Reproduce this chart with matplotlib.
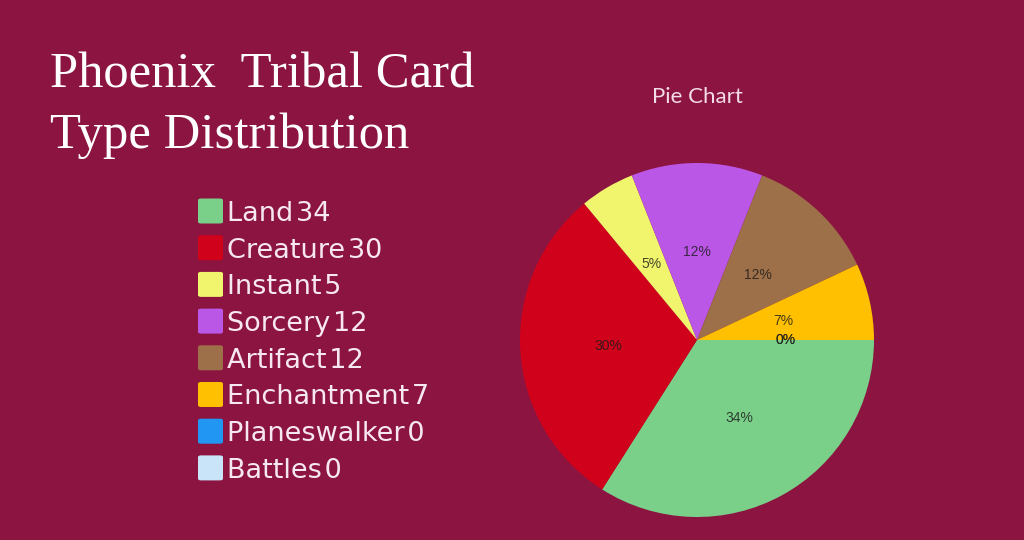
import matplotlib
matplotlib.use('Agg')
import matplotlib.pyplot as plt
from matplotlib.patches import FancyBboxPatch

# data
card_types = ['Land', 'Creature', 'Instant', 'Sorcery', 'Artifact',
              'Enchantment', 'Planeswalker', 'Battles']
counts = [34, 30, 5, 12, 12, 7, 0, 0]
colors = ['#7acf89', '#d0011b', '#f1f46d', '#bb57e6', '#9e7049',
          '#fec000', '#2196f3', '#c9e4f9']

BG = '#8b1441'

fig = plt.figure(figsize=(10.24, 5.4), dpi=100, facecolor=BG)

# ── Title block ─────────────────────────────────────────────
fig.text(50 / 1024, 1 - 88 / 540, 'Phoenix  Tribal Card', fontsize=36.5,
         family='Liberation Serif', color='white', va='baseline')
fig.text(50 / 1024, 1 - 148 / 540, 'Type Distribution', fontsize=36.5,
         family='Liberation Serif', color='white', va='baseline')

# ── Legend ──────────────────────────────────────────────────
row0, step = 211, 36.7
for i, (name, val, col) in enumerate(zip(card_types, counts, colors)):
    yc = row0 + i * step
    sq = FancyBboxPatch((198 / 1024, 1 - (yc + 12.5) / 540), 25 / 1024, 25 / 540,
                        boxstyle='round,pad=0,rounding_size=0.003',
                        transform=fig.transFigure, facecolor=col,
                        edgecolor='none')
    fig.patches.append(sq)
    fig.text(227 / 1024, 1 - yc / 540, f'{name}\u200a{val}', fontsize=19.5,
             family='DejaVu Sans', color='#f7e8f0', va='center_baseline')

# ── Pie ─────────────────────────────────────────────────────
cx, cy, r = 697, 340, 177
ax = fig.add_axes([(cx - r) / 1024, (540 - cy - r) / 540, 2 * r / 1024, 2 * r / 540])
ax.set_facecolor(BG)
wedges, texts, autotexts = ax.pie(
    counts, colors=colors, startangle=0, counterclock=False,
    autopct='%1.0f%%', pctdistance=0.5, radius=1,
    wedgeprops=dict(linewidth=0),
    textprops=dict(fontsize=10, family='Liberation Sans', color='#1a1a1a', alpha=0.8))
ax.set_xlim(-1, 1)
ax.set_ylim(-1, 1)
ax.axis('off')

fig.text(cx / 1024, 1 - 97 / 540, 'Pie Chart', fontsize=16, family='Lato',
         color='#f3dbe8', ha='center', va='center')

fig.savefig('out.png', dpi=100, facecolor=BG)
